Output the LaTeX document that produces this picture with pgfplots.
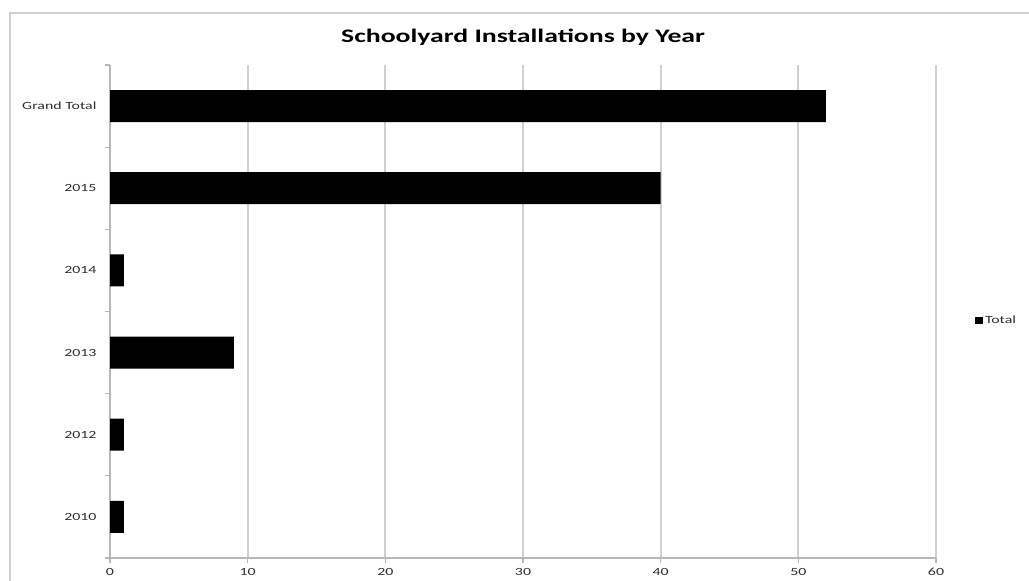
\documentclass[border=0pt]{standalone}
\usepackage{fontspec}
\setmainfont{Carlito}[FakeStretch=1.45]
\usepackage{pgfplots}
\pgfplotsset{compat=1.18}
\definecolor{gridgray}{HTML}{D0D0D0}
\definecolor{axisgray}{HTML}{B8B8B8}
\definecolor{labgray}{HTML}{2E2E2E}
\begin{document}
\begin{tikzpicture}[x=1bp,y=1bp]
\path[use as bounding box] (0,0) rectangle (1029,581);
\draw[color=gridgray, line width=2bp] (10,0) -- (10,568) -- (1029,568);
\begin{axis}[
  at={(110bp,23bp)}, anchor=south west,
  scale only axis, width=826bp, height=493bp,
  xbar, bar width=32bp,
  xmin=0, xmax=60, ymin=-0.5, ymax=5.5,
  xtick={0,10,...,60},
  ytick={-0.5,0.5,...,5.5}, yticklabels={},
  extra y ticks={0,1,2,3,4,5},
  extra y tick labels={2010,2012,2013,2014,2015,Grand Total},
  extra y tick style={major tick length=0pt, yticklabel style={xshift=-10bp}},
  xticklabel style={yshift=-2bp},
  xmajorgrids, ymajorgrids=false,
  major grid style={line width=2bp, color=gridgray},
  axis x line*=bottom, axis y line*=left,
  axis line style={color=axisgray, line width=1.5bp, -},
  tick style={color=axisgray, line width=1.2bp},
  major tick length=5bp, tick align=outside,
  /pgf/number format/assume math mode=true,
  ticklabel style={font=\fontsize{11}{12}\selectfont, text=labgray},
  title={Schoolyard Installations by Year},
  title style={font=\bfseries\fontsize{19.2}{22}\selectfont, at={(axis description cs:0.5,1)}, anchor=center, yshift=22bp},
  legend style={at={(axis description cs:1.047,0.481)}, anchor=west, draw=none, fill=none,
    font=\fontsize{11}{12}\selectfont, text=labgray, inner sep=0pt},
  legend image code/.code={\fill[black] (0bp,-3bp) rectangle (8bp,4bp);},
]
\addplot[fill=black, draw=none] coordinates {(1,0) (1,1) (9,2) (1,3) (40,4) (52,5)};
\addlegendentry{Total}
\end{axis}
\end{tikzpicture}
\end{document}
